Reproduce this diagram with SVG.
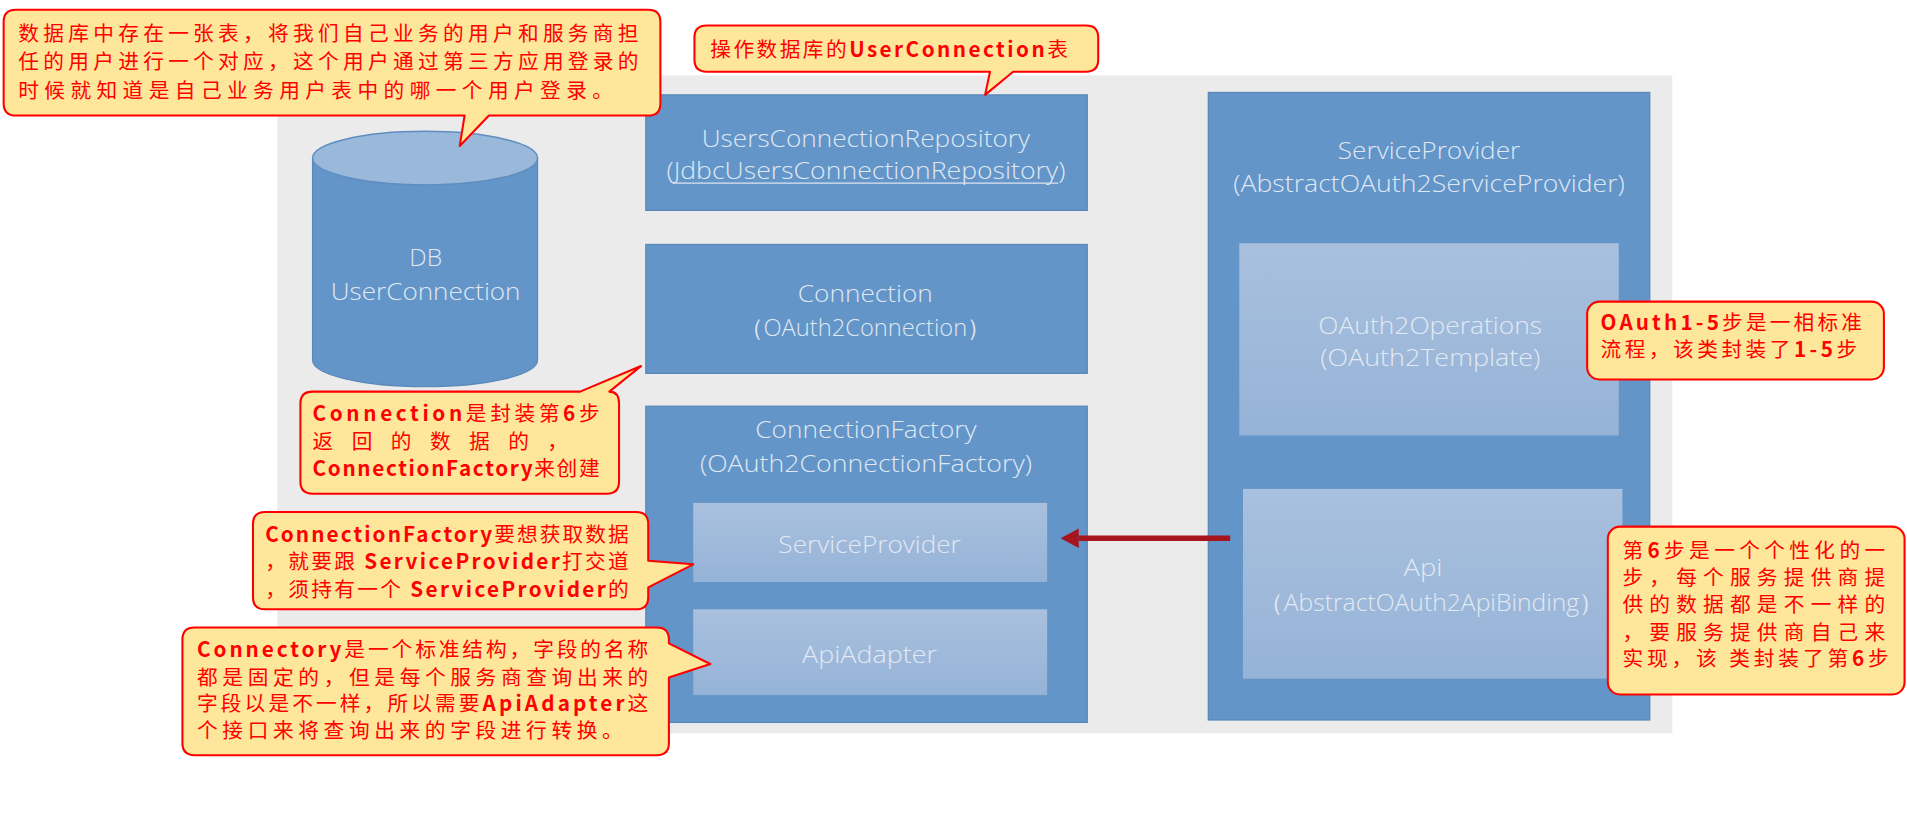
<svg xmlns="http://www.w3.org/2000/svg" width="1907" height="833" viewBox="0 0 1907 833">
<style>
.box{fill:#6395c8;stroke:#5a87b8;stroke-width:1}
.inner{fill:url(#innerGrad);stroke:none}
.bt{font-family:"Open Sans","Noto Sans",sans-serif;font-weight:300;font-size:20px;fill:#dfe8f3;text-anchor:middle}
.it{font-family:"Open Sans","Noto Sans",sans-serif;font-weight:300;font-size:20px;fill:#e2e9f2;text-anchor:middle}
.call{fill:#fee69b;stroke:#ff0000;stroke-width:1.7;stroke-linejoin:round}
.ct{font-family:"Noto Sans CJK SC","Noto Sans",sans-serif;font-size:17px;fill:#ff0000}
.b{font-weight:bold}
</style>
<defs>
<linearGradient id="innerGrad" x1="0" y1="0" x2="0" y2="1">
<stop offset="0" stop-color="#a9c0de"/>
<stop offset="1" stop-color="#95b3d7"/>
</linearGradient>
<marker id="arrow" markerUnits="userSpaceOnUse" markerWidth="15" markerHeight="16" refX="0" refY="8" orient="auto">
<path d="M0,0 L15,8 L0,16 Z" fill="#a8141e"/>
</marker>
</defs>
<rect x="0" y="0" width="1907" height="833" fill="#ffffff"/>
<g transform="scale(1.2162)">
<rect id="panel" x="228" y="62" width="1147" height="541" fill="#ebebec"/>

<g id="db">
<path d="M257,130 V296 A92.5,22 0 0 0 442,296 V130 Z" fill="#6395c8" stroke="#5a87b8" stroke-width="1"/>
<ellipse cx="349.5" cy="130" rx="92.5" ry="22" fill="#9ab8da" stroke="#5f8dc0" stroke-width="1.2"/>
<text class="bt" x="350" y="219" textLength="27" lengthAdjust="spacingAndGlyphs">DB</text>
<text class="bt" x="350" y="247" textLength="156" lengthAdjust="spacingAndGlyphs">UserConnection</text>
</g>

<g id="repo">
<rect class="box" x="531" y="78" width="363" height="95"/>
<text class="bt" x="712" y="121" textLength="270" lengthAdjust="spacingAndGlyphs">UsersConnectionRepository</text>
<text class="bt" x="712" y="147" textLength="328" lengthAdjust="spacingAndGlyphs">(JdbcUsersConnectionRepository)</text>
<line x1="553" y1="150.5" x2="870" y2="150.5" stroke="#dbe4f0" stroke-width="1"/>
</g>

<g id="connection">
<rect class="box" x="531" y="201" width="363" height="106"/>
<text class="bt" x="711.5" y="248" textLength="111" lengthAdjust="spacingAndGlyphs">Connection</text>
<text class="bt" x="711.5" y="276" textLength="206" lengthAdjust="spacingAndGlyphs">（OAuth2Connection）</text>
</g>

<g id="connectionFactory">
<rect class="box" x="531" y="334" width="363" height="260"/>
<text class="bt" x="712" y="360" textLength="182" lengthAdjust="spacingAndGlyphs">ConnectionFactory</text>
<text class="bt" x="712" y="388" textLength="273" lengthAdjust="spacingAndGlyphs">(OAuth2ConnectionFactory)</text>
<g id="cfServiceProvider">
<rect class="inner" x="570" y="413.5" width="291" height="65"/>
<text class="it" x="715" y="455" textLength="150" lengthAdjust="spacingAndGlyphs">ServiceProvider</text>
</g>
<g id="apiAdapter">
<rect class="inner" x="570" y="501" width="291" height="70.5"/>
<text class="it" x="715" y="545" textLength="111" lengthAdjust="spacingAndGlyphs">ApiAdapter</text>
</g>
</g>

<g id="serviceProvider">
<rect class="box" x="993.5" y="76" width="363" height="516"/>
<text class="bt" x="1175" y="131" textLength="150" lengthAdjust="spacingAndGlyphs">ServiceProvider</text>
<text class="bt" x="1175" y="158" textLength="322" lengthAdjust="spacingAndGlyphs">(AbstractOAuth2ServiceProvider)</text>
<g id="oauth2Operations">
<rect class="inner" x="1019" y="200" width="312" height="158"/>
<text class="it" x="1176" y="275" textLength="184" lengthAdjust="spacingAndGlyphs">OAuth2Operations</text>
<text class="it" x="1176" y="301" textLength="181" lengthAdjust="spacingAndGlyphs">(OAuth2Template)</text>
</g>
<g id="api">
<rect class="inner" x="1022" y="402" width="312" height="156"/>
<text class="it" x="1170" y="474" textLength="32" lengthAdjust="spacingAndGlyphs">Api</text>
<text class="it" x="1177" y="502" textLength="283" lengthAdjust="spacingAndGlyphs">（AbstractOAuth2ApiBinding）</text>
</g>
</g>

<g id="connectors">
<line x1="1011.5" y1="442.5" x2="887" y2="442.5" stroke="#a8141e" stroke-width="4.5" marker-end="url(#arrow)"/>
</g>

<g id="note-db">
<path class="call" d="M13,8 H533 Q543,8 543,18 V85 Q543,95 533,95 H402 L378,120 L382,95 H13 Q3,95 3,85 V18 Q3,8 13,8 Z"/>
<text class="ct" x="15" y="33.5" textLength="510" lengthAdjust="spacing">数据库中存在一张表，将我们自己业务的用户和服务商担</text>
<text class="ct" x="15" y="57" textLength="510" lengthAdjust="spacing">任的用户进行一个对应，这个用户通过第三方应用登录的</text>
<text class="ct" x="15" y="80.5" textLength="489" lengthAdjust="spacing">时候就知道是自己业务用户表中的哪一个用户登录。</text>
</g>

<g id="note-repo">
<path class="call" d="M581,21 H893 Q903,21 903,31 V49 Q903,59 893,59 H833 L810,78 L814,59 H581 Q571,59 571,49 V31 Q571,21 581,21 Z"/>
<text class="ct" x="584" y="46.5" textLength="294" lengthAdjust="spacing">操作数据库的<tspan class="b">UserConnection</tspan>表</text>
</g>

<g id="note-connection">
<path class="call" d="M257,322 H477 L527,301 L501,322 Q509,322 509,332 V396 Q509,406 499,406 H257 Q247,406 247,396 V332 Q247,322 257,322 Z"/>
<text class="ct" x="257" y="346.5" textLength="236" lengthAdjust="spacing"><tspan class="b">Connection</tspan>是封装第<tspan class="b">6</tspan>步</text>
<text class="ct" x="257" y="369.5" textLength="210" lengthAdjust="spacing">返 回 的 数 据 的 ，</text>
<text class="ct" x="257" y="391.5" textLength="236" lengthAdjust="spacing"><tspan class="b">ConnectionFactory</tspan>来创建</text>
</g>

<g id="note-cf">
<path class="call" d="M218,421 H523 Q533,421 533,431 V461 L570,464 L533,483 V491 Q533,501 523,501 H218 Q208,501 208,491 V431 Q208,421 218,421 Z"/>
<text class="ct" x="218" y="445.5" textLength="299" lengthAdjust="spacing"><tspan class="b">ConnectionFactory</tspan>要想获取数据</text>
<text class="ct" x="218" y="467.5" textLength="299" lengthAdjust="spacing">，就要跟 <tspan class="b">ServiceProvider</tspan>打交道</text>
<text class="ct" x="218" y="490.5" textLength="299" lengthAdjust="spacing">，须持有一个 <tspan class="b">ServiceProvider</tspan>的</text>
</g>

<g id="note-adapter">
<path class="call" d="M160,516 H540 Q550,516 550,526 V529 L584,546 L550,557 V611 Q550,621 540,621 H160 Q150,621 150,611 V526 Q150,516 160,516 Z"/>
<text class="ct" x="162" y="540.5" textLength="371" lengthAdjust="spacing"><tspan class="b">Connectory</tspan>是一个标准结构，字段的名称</text>
<text class="ct" x="162" y="563" textLength="371" lengthAdjust="spacing">都是固定的，但是每个服务商查询出来的</text>
<text class="ct" x="162" y="584.5" textLength="371" lengthAdjust="spacing">字段以是不一样，所以需要<tspan class="b">ApiAdapter</tspan>这</text>
<text class="ct" x="162" y="606.5" textLength="350" lengthAdjust="spacing">个接口来将查询出来的字段进行转换。</text>
</g>

<g id="note-oauth">
<rect class="call" x="1305" y="248" width="244" height="64" rx="10" ry="10"/>
<text class="ct" x="1316" y="271.5" textLength="215" lengthAdjust="spacing"><tspan class="b">OAuth1-5</tspan>步是一相标准</text>
<text class="ct" x="1316" y="293.5" textLength="211" lengthAdjust="spacing">流程，该类封装了<tspan class="b">1-5</tspan>步</text>
</g>

<g id="note-api">
<rect class="call" x="1322" y="433" width="244" height="138" rx="10" ry="10"/>
<text class="ct" x="1334" y="458.5" textLength="216" lengthAdjust="spacing">第<tspan class="b">6</tspan>步是一个个性化的一</text>
<text class="ct" x="1334" y="481" textLength="216" lengthAdjust="spacing">步，每个服务提供商提</text>
<text class="ct" x="1334" y="503" textLength="216" lengthAdjust="spacing">供的数据都是不一样的</text>
<text class="ct" x="1334" y="526" textLength="216" lengthAdjust="spacing">，要服务提供商自己来</text>
<text class="ct" x="1334" y="547.5" textLength="219" lengthAdjust="spacing">实现，该 类封装了第<tspan class="b">6</tspan>步</text>
</g>
</g>
</svg>
